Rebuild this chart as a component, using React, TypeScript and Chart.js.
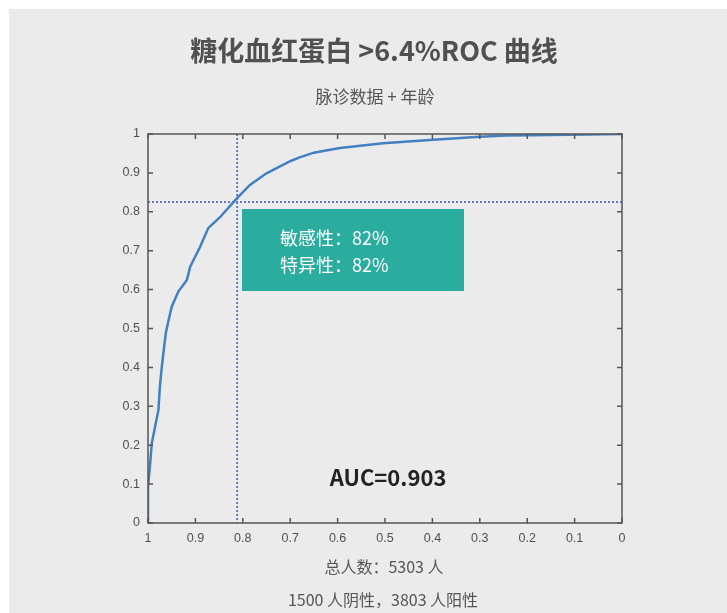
import React, { useEffect, useRef } from "react";
import { Chart, registerables } from "chart.js";

Chart.register(...registerables);

const specificity = [1, 1, 0.996, 0.992, 0.985, 0.978, 0.975, 0.971, 0.966, 0.962, 0.95, 0.936, 0.918, 0.911, 0.89, 0.873, 0.848, 0.816, 0.785, 0.75, 0.7, 0.68, 0.65, 0.61, 0.595, 0.504, 0.398, 0.3, 0.243, 0.19, 0];
const sensitivity = [0, 0.093, 0.145, 0.205, 0.248, 0.29, 0.35, 0.4, 0.453, 0.492, 0.556, 0.595, 0.625, 0.659, 0.71, 0.758, 0.786, 0.83, 0.869, 0.899, 0.93, 0.94, 0.952, 0.961, 0.964, 0.976, 0.985, 0.993, 0.996, 0.997, 1];
const cutSpecificity = 0.812;
const cutSensitivity = 0.825;
const tickValues = [0, 0.1, 0.2, 0.3, 0.4, 0.5, 0.6, 0.7, 0.8, 0.9, 1];

const titleText = "糖化血红蛋白 >6.4%ROC 曲线";
const subtitleText = "脉诊数据 + 年龄";
const boxLines = ["敏感性：82%", "特异性：82%"];
const aucText = "AUC=0.903";
const footLines = ["总人数：5303 人", "1500 人阴性，3803 人阳性"];

const CJK = '"Noto Sans CJK SC", "Noto Sans", sans-serif';
const fmt = (v: any) => `${Math.round(Number(v) * 10) / 10}`;

export default function App() {
  const ref = useRef<HTMLCanvasElement | null>(null);
  useEffect(() => {
    const canvas = ref.current;
    if (!canvas) return;
    const decor = {
      id: "decor",
      beforeDatasetsDraw(chart: any) {
        const ctx = chart.ctx;
        const xs = chart.scales.x;
        const ys = chart.scales.y;
        const a = chart.chartArea;
        ctx.save();
        ctx.strokeStyle = "#6878c4";
        ctx.lineWidth = 2;
        ctx.setLineDash([2, 2]);
        const vx = xs.getPixelForValue(cutSpecificity);
        const hy = ys.getPixelForValue(cutSensitivity);
        ctx.beginPath();
        ctx.moveTo(vx, a.top);
        ctx.lineTo(vx, a.bottom);
        ctx.moveTo(a.left, hy);
        ctx.lineTo(a.right, hy);
        ctx.stroke();
        ctx.restore();
      },
      afterDraw(chart: any) {
        const ctx = chart.ctx;
        const xs = chart.scales.x;
        const ys = chart.scales.y;
        const a = chart.chartArea;
        ctx.save();
        ctx.strokeStyle = "#555";
        ctx.lineWidth = 1.5;
        ctx.strokeRect(a.left, a.top, a.right - a.left, a.bottom - a.top);
        ctx.beginPath();
        const tl = 5;
        tickValues.forEach((v) => {
          const px = xs.getPixelForValue(v);
          ctx.moveTo(px, a.bottom);
          ctx.lineTo(px, a.bottom - tl);
          ctx.moveTo(px, a.top);
          ctx.lineTo(px, a.top + tl);
          const py = ys.getPixelForValue(v);
          ctx.moveTo(a.left, py);
          ctx.lineTo(a.left + tl, py);
          ctx.moveTo(a.right, py);
          ctx.lineTo(a.right - tl, py);
        });
        ctx.stroke();

        const bx = a.left + 94;
        const by = a.top + 75;
        ctx.fillStyle = "#2aac9e";
        ctx.fillRect(bx, by, 222, 82);
        ctx.fillStyle = "#ffffff";
        ctx.font = `18px ${CJK}`;
        ctx.textAlign = "left";
        ctx.textBaseline = "middle";
        ctx.fillText(boxLines[0], bx + 38, by + 29);
        ctx.fillText(boxLines[1], bx + 38, by + 56);

        ctx.fillStyle = "#222";
        ctx.font = `bold 22px ${CJK}`;
        ctx.textAlign = "center";
        ctx.fillText(aucText, a.left + 240, a.bottom - 45);

        ctx.fillStyle = "#505050";
        ctx.font = `bold 27px ${CJK}`;
        ctx.fillText(titleText, 365, 42);
        ctx.fillStyle = "#555";
        ctx.font = `17px ${CJK}`;
        ctx.fillText(subtitleText, 366, 88);
        ctx.font = `16px ${CJK}`;
        ctx.fillText(footLines[0], 375, 558);
        ctx.fillText(footLines[1], 374, 591);
        ctx.restore();
      },
    };

    const tickFont = { family: "Liberation Sans", size: 12.5 };
    const chart = new Chart(canvas, {
      type: "scatter",
      data: {
        datasets: [
          {
            data: specificity.map((x, i) => ({ x, y: sensitivity[i] })),
            showLine: true,
            borderColor: "#4380c2",
            borderWidth: 2.5,
            pointRadius: 0,
            tension: 0,
          },
        ],
      },
      options: {
        animation: false,
        responsive: false,
        maintainAspectRatio: false,
        layout: { padding: { left: 0, right: 105, top: 125, bottom: 0 } },
        plugins: { legend: { display: false }, tooltip: { enabled: false } },
        scales: {
          x: {
            type: "linear",
            reverse: true,
            min: 0,
            max: 1,
            afterFit: (s: any) => {
              s.height = 90;
            },
            ticks: { stepSize: 0.1, padding: 8, color: "#505050", font: tickFont, callback: fmt },
            grid: { display: false, drawTicks: false },
            border: { display: false },
          },
          y: {
            type: "linear",
            min: 0,
            max: 1,
            afterFit: (s: any) => {
              s.width = 139;
            },
            ticks: { stepSize: 0.1, padding: 8, color: "#505050", font: tickFont, callback: fmt },
            grid: { display: false, drawTicks: false },
            border: { display: false },
          },
        },
      },
      plugins: [decor],
    });
    return () => chart.destroy();
  }, []);

  return (
    <div style={{ position: "fixed", left: 9, top: 9, width: 718, height: 604, background: "#ebebeb" }}>
      <canvas ref={ref} width={718} height={604} style={{ display: "block", width: 718, height: 604 }} />
    </div>
  );
}
